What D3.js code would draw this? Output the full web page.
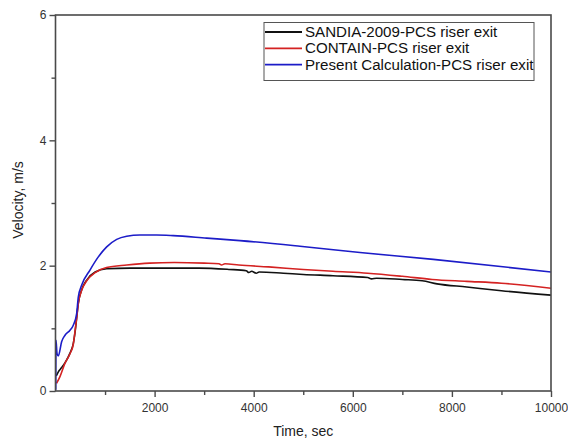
<!DOCTYPE html>
<html>
<head>
<meta charset="utf-8">
<script src="https://cdn.jsdelivr.net/npm/d3@7"></script>
<style>
  html, body { margin: 0; padding: 0; background: #fff; }
  svg { display: block; }
  text { font-family: "Liberation Sans", Arial, sans-serif; }
</style>
</head>
<body>
<svg id="chart" width="568" height="439"></svg>
<script>
// ---- data ----
const seriesNames = ["SANDIA-2009-PCS riser exit", "CONTAIN-PCS riser exit", "Present Calculation-PCS riser exit"];
const seriesColors = ["#111111", "#d42222", "#1c1cc8"];

const sandia = [
  [15,0.24],[60,0.31],[120,0.37],[200,0.46],[290,0.60],[360,0.76],[400,0.97],[430,1.19],[460,1.40],
  [530,1.62],[630,1.77],[800,1.90],[1030,1.95],[1500,1.96],[2000,1.96],[2900,1.96],[3500,1.94],
  [3850,1.92],[3900,1.89],[3960,1.91],[4050,1.88],[4110,1.90],[4600,1.88],[5000,1.86],[5600,1.84],
  [6300,1.81],[6380,1.79],[6480,1.80],[7000,1.78],[7400,1.76],[7700,1.71],[8300,1.66],[9000,1.60],[10000,1.53]
];
const contain = [
  [20,0.12],[90,0.23],[190,0.44],[290,0.59],[360,0.75],[395,0.96],[430,1.18],[460,1.39],[530,1.61],
  [630,1.76],[800,1.89],[1030,1.97],[1440,2.01],[1900,2.04],[2400,2.05],[3000,2.04],[3300,2.03],
  [3350,2.01],[3420,2.03],[3700,2.01],[4300,1.98],[5000,1.94],[5600,1.91],[6300,1.88],[7000,1.83],
  [7600,1.78],[8300,1.75],[9000,1.72],[10000,1.64]
];
const present = [
  [5,0.02],[10,0.81],[30,0.60],[57,0.56],[125,0.79],[192,0.89],[293,0.97],[359,1.05],[428,1.24],
  [460,1.50],[529,1.69],[696,1.93],[864,2.14],[1033,2.30],[1235,2.42],[1437,2.47],[1705,2.49],
  [2042,2.49],[2377,2.48],[3051,2.44],[3723,2.40],[4934,2.31],[6145,2.21],[7625,2.10],[10000,1.90]
];
const xTickLabels = [2000, 4000, 6000, 8000, 10000];
const xMinorTicks = [1000, 3000, 5000, 7000, 9000];
const yTickLabels = [0, 2, 4, 6];
const yMinorTicks = [1, 3, 5];
const xTitle = "Time, sec";
const yTitle = "Velocity, m/s";

// ---- layout ----
const svg = d3.select("#chart");
const L = 55.5, R = 551, T = 15, B = 391;
const x = d3.scaleLinear().domain([0, 10000]).range([L, R]);
const y = d3.scaleLinear().domain([0, 6]).range([B, T]);
const axisColor = "#4a4a4a";

svg.append("clipPath").attr("id", "clip").append("rect")
  .attr("x", L).attr("y", T).attr("width", R - L).attr("height", B - T);

const line = d3.line().x(d => x(d[0])).y(d => y(d[1])).curve(d3.curveMonotoneX);
const data = [sandia, contain, present];
const g = svg.append("g").attr("clip-path", "url(#clip)");
data.forEach((s, i) => {
  g.append("path").datum(s)
    .attr("d", line)
    .attr("fill", "none")
    .attr("stroke", seriesColors[i])
    .attr("stroke-width", 1.6)
    .attr("stroke-linejoin", "round");
});

// frame
svg.append("rect").attr("x", L).attr("y", T).attr("width", R - L).attr("height", B - T)
  .attr("fill", "none").attr("stroke", axisColor).attr("stroke-width", 1.6);

// axes
const xAxis = svg.append("g").attr("transform", `translate(0,${B})`)
  .call(d3.axisBottom(x).tickValues(xTickLabels).tickSize(6).tickPadding(6).tickFormat(d3.format("d")));
const xMinor = svg.append("g").attr("transform", `translate(0,${B})`)
  .call(d3.axisBottom(x).tickValues(xMinorTicks).tickSize(4).tickFormat(""));
const yAxis = svg.append("g").attr("transform", `translate(${L},0)`)
  .call(d3.axisLeft(y).tickValues(yTickLabels).tickSize(6).tickPadding(3).tickFormat(d3.format("d")));
const yMinor = svg.append("g").attr("transform", `translate(${L},0)`)
  .call(d3.axisLeft(y).tickValues(yMinorTicks).tickSize(4).tickFormat(""));

[xAxis, xMinor, yAxis, yMinor].forEach(a => {
  a.select(".domain").remove();
  a.selectAll("line").attr("stroke", axisColor).attr("stroke-width", 1.4);
  a.selectAll("text").attr("fill", "#333").style("font-size", "12px")
    .style("font-family", "'Liberation Sans', Arial, sans-serif");
});

// titles
svg.append("text").attr("x", (L + R) / 2).attr("y", 436).attr("text-anchor", "middle")
  .attr("fill", "#222").style("font-size", "14px").text(xTitle);
svg.append("text").attr("transform", `translate(23,${(T + B) / 2 - 3}) rotate(-90)`)
  .attr("text-anchor", "middle").attr("fill", "#222").style("font-size", "14px").text(yTitle);

// legend
const lg = svg.append("g");
lg.append("rect").attr("x", 264).attr("y", 22.5).attr("width", 270).attr("height", 58)
  .attr("fill", "#fff").attr("stroke", "#555").attr("stroke-width", 1);
seriesNames.forEach((n, i) => {
  const yy = 32 + i * 16.3;
  lg.append("line").attr("x1", 265).attr("x2", 302).attr("y1", yy).attr("y2", yy)
    .attr("stroke", seriesColors[i]).attr("stroke-width", 1.8);
  lg.append("text").attr("transform", `translate(305,${yy + 5}) scale(1.08,1)`)
    .attr("fill", "#111").style("font-size", "14px").text(n);
});
</script>
</body>
</html>
